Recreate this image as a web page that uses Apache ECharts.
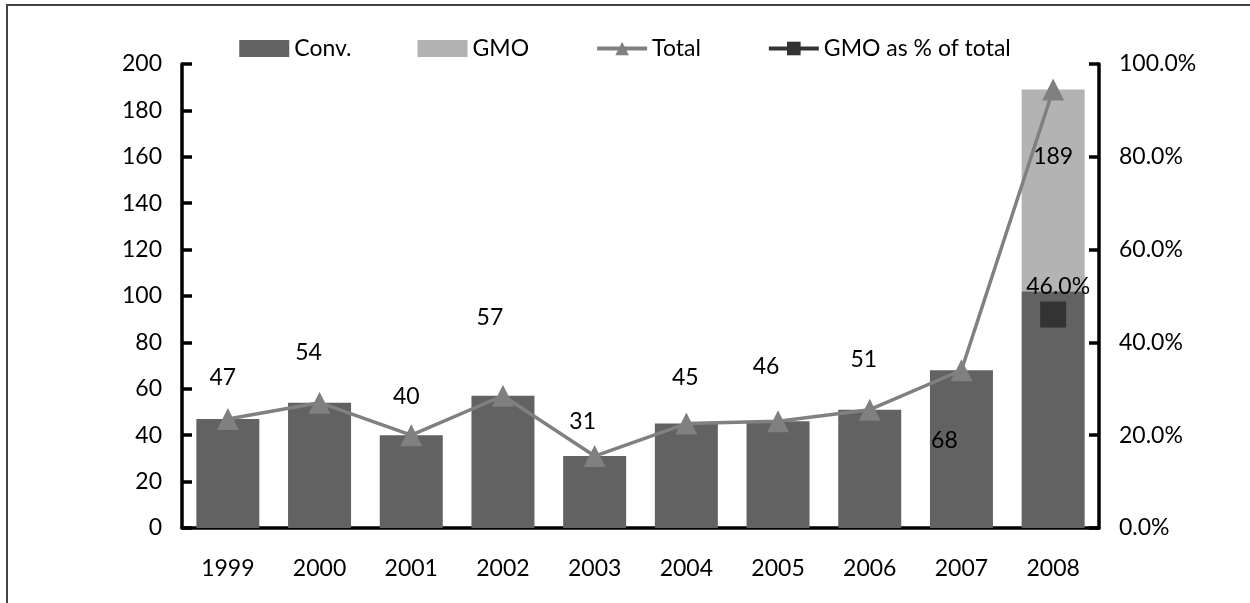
<!DOCTYPE html>
<html>
<head>
<meta charset="utf-8">
<script src="https://cdn.jsdelivr.net/npm/echarts@6/dist/echarts.min.js"></script>
<style>
  html, body { margin: 0; padding: 0; background: #fff; }
  #chart { width: 1250px; height: 603px; }
</style>
</head>
<body>
<div id="chart"></div>
<script>
// data
const years = ['1999', '2000', '2001', '2002', '2003', '2004', '2005', '2006', '2007', '2008'];
const conv = [47, 54, 40, 57, 31, 45, 46, 51, 68, 102];
const gmo = [0, 0, 0, 0, 0, 0, 0, 0, 0, 87];
const total = [47, 54, 40, 57, 31, 45, 46, 51, 68, 189];
const gmoShare = [null, null, null, null, null, null, null, null, null, 46.0];
const leftTicks = [0, 200, 20];
const rightTicks = [0, 100, 20];

// where the labels of the Total series sit, relative to their marker
const totalLabelShift = [[-5, -41], [-11, -50], [-5, -39], [-13, -78], [-12, -35],
  [-1, -46], [-12, -55], [-6, -50], [-17, 70], [0, 67]];

const FONT = 'Lato';
const TXT = { fontFamily: FONT, fontSize: 23, color: '#000' };

let chart = echarts.init(document.getElementById('chart'));

let axisStyle = {
  axisLine: { show: true, lineStyle: { color: '#000', width: 3.5 } },
  axisTick: { show: true, inside: true, length: 10, lineStyle: { color: '#000', width: 3.5 } },
  splitLine: { show: false },
  axisLabel: Object.assign({ margin: 20 }, TXT)
};

let option = {
  animation: false,
  backgroundColor: '#fff',
  textStyle: { fontFamily: FONT },
  graphic: [{
    type: 'rect',
    shape: { x: 7, y: 5, width: 1400, height: 800 },
    style: { fill: 'none', stroke: '#444', lineWidth: 2 },
    silent: true
  }],
  legend: {
    top: 32,
    left: 'center',
    itemWidth: 50,
    itemHeight: 17,
    itemGap: 66,
    textStyle: TXT,
    data: [
      { name: 'Conv.', icon: 'rect' },
      { name: 'GMO', icon: 'rect' },
      { name: 'Total', lineStyle: { width: 4 } },
      { name: 'GMO as % of total', lineStyle: { width: 4 } }
    ]
  },
  grid: { left: 182, right: 151, top: 64, bottom: 75 },
  xAxis: {
    type: 'category',
    data: years,
    axisLine: { lineStyle: { color: '#000', width: 3.5 } },
    axisTick: { show: false },
    axisLabel: Object.assign({ margin: 29 }, TXT)
  },
  yAxis: [
    Object.assign({ type: 'value', min: leftTicks[0], max: leftTicks[1], interval: leftTicks[2] }, axisStyle),
    Object.assign({}, axisStyle, {
      type: 'value', min: rightTicks[0], max: rightTicks[1], interval: rightTicks[2],
      axisLabel: Object.assign({ margin: 20, formatter: v => v.toFixed(1) + '%' }, TXT)
    })
  ],
  series: [
    {
      name: 'Conv.', type: 'bar', stack: 'a', barWidth: 63,
      itemStyle: { color: '#626262' },
      data: conv
    },
    {
      name: 'GMO', type: 'bar', stack: 'a', barWidth: 63,
      itemStyle: { color: '#b3b3b3' },
      data: gmo
    },
    {
      name: 'Total', type: 'line', z: 5,
      symbol: 'triangle', symbolSize: 22,
      itemStyle: { color: '#808080' },
      lineStyle: { color: '#808080', width: 3.5 },
      label: Object.assign({ show: true, position: 'inside' }, TXT),
      data: total.map((v, i) => ({ value: v, label: { offset: totalLabelShift[i] } }))
    },
    {
      name: 'GMO as % of total', type: 'line', yAxisIndex: 1, z: 6,
      symbol: 'rect', symbolSize: 26,
      itemStyle: { color: '#333333' },
      lineStyle: { color: '#333333', width: 3.5 },
      label: Object.assign({
        show: true, position: 'inside', offset: [5, -28],
        formatter: p => p.value == null ? '' : p.value.toFixed(1) + '%'
      }, TXT),
      data: gmoShare
    }
  ]
};

chart.setOption(option);
</script>
</body>
</html>
